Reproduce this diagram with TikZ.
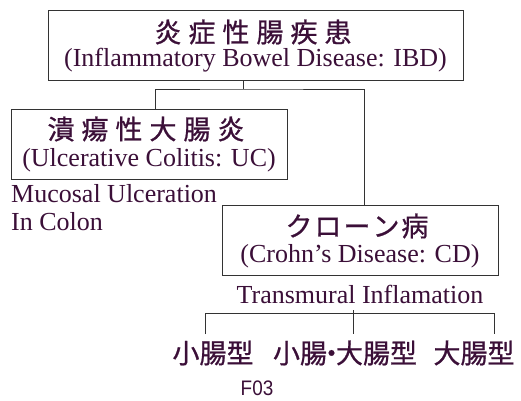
\documentclass[tikz,border=0pt]{standalone}
\usepackage{fontspec}
\setmainfont{Liberation Serif}
\newfontfamily\cjk[FakeBold=0.8]{Noto Sans CJK JP}
\newfontfamily\sansf{Liberation Sans}
\definecolor{txt}{HTML}{3B0F38}
\definecolor{ln}{HTML}{333333}
\tikzset{
  boxnode/.style={draw=ln, line width=1pt, rectangle, inner sep=0pt, minimum height=70pt},
  entext/.style={text=txt, inner sep=0pt, font=\fontsize{26}{28}\selectfont},
  jptext/.style={text=txt, inner sep=0pt, font=\cjk\fontsize{27}{28}\selectfont},
  jpbig/.style={text=txt, inner sep=0pt, font=\cjk\fontsize{27}{28}\selectfont},
  conn/.style={draw=ln, line width=1pt},
}
\begin{document}
\begin{tikzpicture}[x=1pt,y=-1pt]
\useasboundingbox[fill=white] (0,0) rectangle (521,400);
% boxes
\node[boxnode, minimum width=415pt] (ibd) at (255.5,45) {};
\node[boxnode, minimum width=276pt] (uc) at (149,144) {};
\node[boxnode, minimum width=276pt] (cd) at (360,240) {};
% texts
\node[jptext] (ibdj) at (253,32) {炎\hspace{7pt}症\hspace{7pt}性\hspace{7pt}腸\hspace{7pt}疾\hspace{7pt}患};
\node[entext] (ibde) at (255.5,60) {(Inflammatory Bowel Disease: IBD)};
\node[jptext] (ucj) at (146,129) {潰\hspace{7pt}瘍\hspace{7pt}性\hspace{7pt}大\hspace{7pt}腸\hspace{7pt}炎};
\node[entext] (uce) at (149,160) {(Ulcerative Colitis: UC)};
\node[jptext] (cdj) at (357,226) {ク\hspace{2pt}ロ\hspace{2pt}ー\hspace{2pt}ン\hspace{2pt}病};
\node[entext] (cde) at (360,256) {(Crohn’s Disease: CD)};
\node[entext, anchor=base west] (muc) at (11,202) {Mucosal Ulceration};
\node[entext, anchor=base west] (col) at (11,230) {In Colon};
\node[entext, anchor=base] (trans) at (360,303) {Transmural Inflamation};
\node[jpbig] (t1) at (213,353) {小腸型};
\node[jpbig] (t2) at (345,353) {小腸\kern-9pt・\kern-9pt大腸型};
\node[jpbig] (t3) at (474,353) {大腸型};
\node[text=txt, inner sep=0pt, font=\sansf\fontsize{21}{22}\selectfont] (f03) at (257,388) {\scalebox{0.9}[1]{F03}};
% connector coordinates
\coordinate (j1) at (243.5,89);
\coordinate (b1) at (205,313);
\coordinate (b3) at (494,313);
\coordinate (b2) at (353,313);
% IBD tree
\draw[conn] (ibd.south -| j1) -- (j1);
\draw[conn] (uc.north -| 155,0) |- (j1) -| (cd.north -| 364,0);
% CD bracket
\draw[conn] (b1 |- 0,334) -- (b1) -- (b3) -- (b3 |- 0,334);
\draw[conn] (353,310) -- (353,334);
\end{tikzpicture}
\end{document}
